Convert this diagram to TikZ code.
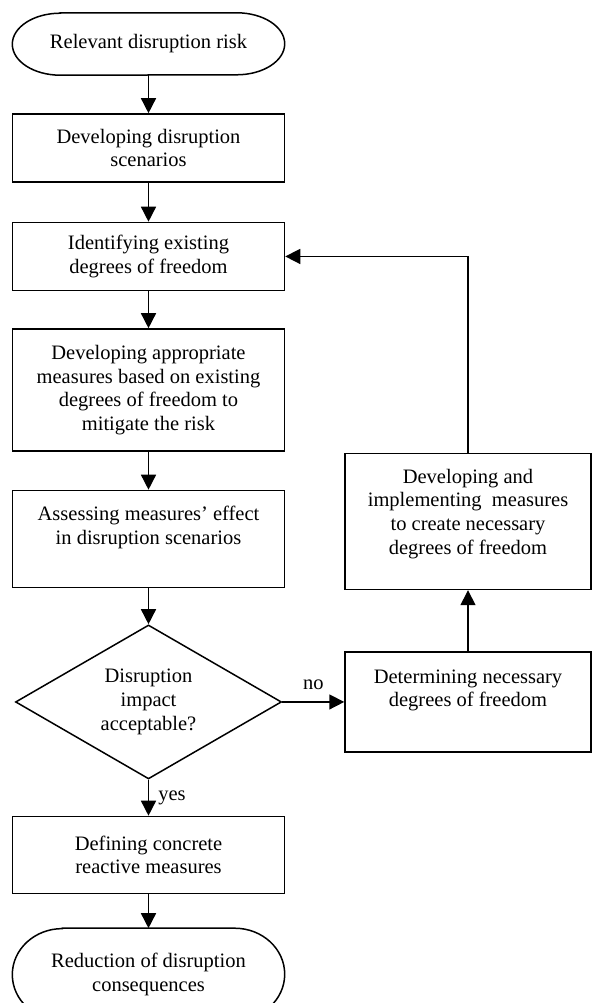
\documentclass[tikz,border=0pt]{standalone}
\usepackage{fontspec}
\setmainfont{Liberation Serif}
\usepackage{tikz}
\usetikzlibrary{shapes,arrows.meta,positioning,calc}

% outline of a terminal node with elliptic ends: node, x radius, y radius
\newcommand{\terminaloutline}[3]{%
  \draw[line width=1.5pt] ([xshift=#2]#1.north west) -- ([xshift=-#2]#1.north east)
    arc[start angle=90, end angle=-90, x radius=#2, y radius=#3]
    -- ([xshift=#2]#1.south west)
    arc[start angle=270, end angle=90, x radius=#2, y radius=#3] -- cycle;}

\begin{document}
\begin{tikzpicture}[
    x=1pt, y=1pt,
    node distance=38pt,
    font=\fontsize{20.5}{23.7}\selectfont,
    box/.style={rectangle, draw, line width=1.5pt, minimum width=272pt, minimum height=68pt, align=center, inner sep=2pt},
    terminal/.style={rectangle, minimum width=272pt, align=center, inner sep=0pt},
    decision/.style={diamond, draw, line width=1.5pt, minimum width=266pt, minimum height=154pt, aspect=1.72, align=center, inner sep=0pt},
    lbl/.style={inner sep=0pt},
    arrow/.style={-{Triangle[length=15pt,width=15pt]}, line width=1.5pt}
]
    \useasboundingbox (0,0) rectangle (592,-1003);

    % Main path
    \node[terminal, minimum height=62pt] (risk) at (148.5,-44) {Relevant disruption risk};
    \node[box, below=of risk] (scenarios) {Developing disruption\\scenarios};
    \node[box, below=39pt of scenarios] (identify) {Identifying existing\\degrees of freedom};
    \node[box, below=37pt of identify, minimum height=122pt] (appropriate) {Developing appropriate\\measures based on existing\\degrees of freedom to\\mitigate the risk};
    \node[box, below=of appropriate, minimum height=97pt] (assess) {Assessing measures’ effect\\in disruption scenarios\\[4pt]\mbox{}};
    \node[decision, below=36pt of assess] (acceptable) {Disruption\\impact\\acceptable?};
    \node[box, below=36pt of acceptable, minimum height=77pt] (reactive) {Defining concrete\\reactive measures};
    \node[terminal, below=34pt of reactive, minimum height=92pt] (reduction) {Reduction of disruption\\consequences};
    \terminaloutline{risk}{48pt}{31pt}
    \terminaloutline{reduction}{50pt}{46pt}

    \draw[arrow] (risk) -- (scenarios);
    \draw[arrow] (scenarios) -- (identify);
    \draw[arrow] (identify) -- (appropriate);
    \draw[arrow] (appropriate) -- (assess);
    \draw[arrow] (assess) -- (acceptable);
    \draw[arrow] (acceptable) -- node[lbl, right=9pt, name=yeslbl] {yes} (reactive);
    \draw[arrow] (reactive) -- (reduction);

    % Feedback path
    \node[box, right=62pt of acceptable, minimum width=246pt, minimum height=100pt] (necessary) {Determining necessary\\degrees of freedom\\[4pt]\mbox{}};
    \node[box, above=61pt of necessary, minimum width=246pt, minimum height=136pt] (create) {Developing and\\implementing\ \ measures\\to create necessary\\degrees of freedom\\[-4pt]\mbox{}};

    \draw[arrow] (acceptable) -- node[lbl, above=12pt, name=nolbl] {no} (necessary);
    \draw[arrow] (necessary) -- (create);
    \draw[arrow] (create.north) |- (identify.east);
\end{tikzpicture}
\end{document}
